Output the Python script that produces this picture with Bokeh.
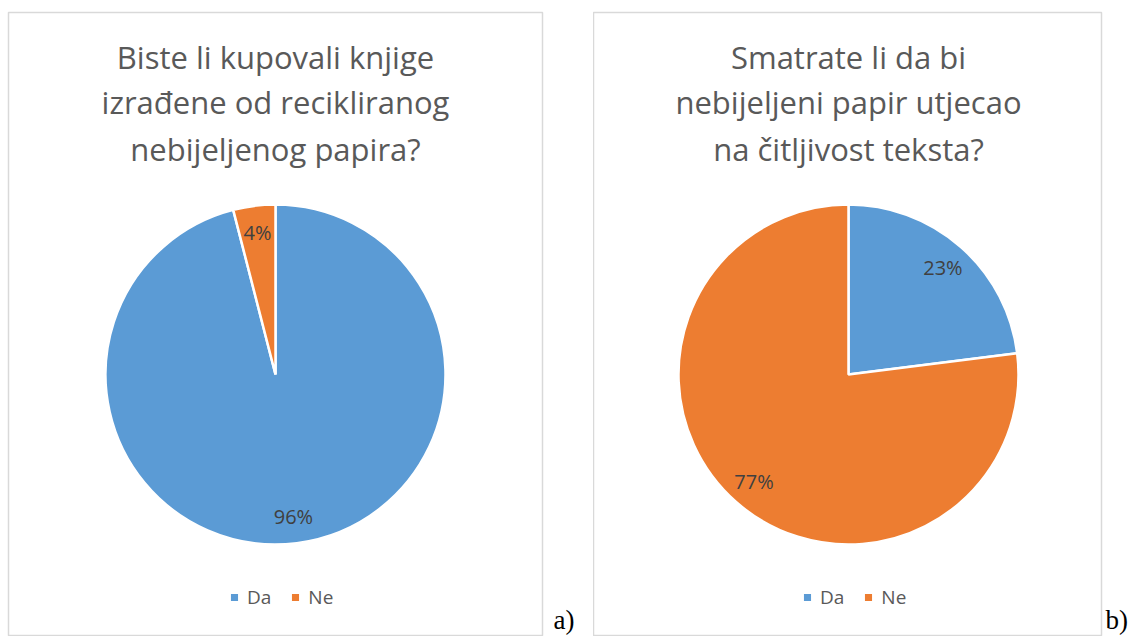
import math
from bokeh.plotting import figure
from bokeh.models import ColumnDataSource, Range1d, Label
from bokeh.layouts import row
from bokeh.embed import file_html
from bokeh.resources import INLINE
from bokeh.core.properties import value

# ---- data ----
categories = ["Da", "Ne"]
values_a = [96, 4]
values_b = [23, 77]
colors = ["#5B9BD5", "#ED7D31"]
title_a = ["Biste li kupovali knjige", "izrađene od recikliranog", "nebijeljenog papira?"]
title_b = ["Smatrate li da bi", "nebijeljeni papir utjecao", "na čitljivost teksta?"]
panel_tags = ["a)", "b)"]

FONT = "Open Sans"
R = 170
FIG_H = 636
TOP = 12
BOTTOM = 1


def pie_source(vals):
    total = float(sum(vals))
    starts, ends, lx, ly, txt = [], [], [], [], []
    cum = 0.0
    for v in vals:
        a_hi = math.pi / 2 - 2 * math.pi * cum / total
        cum += v
        a_lo = math.pi / 2 - 2 * math.pi * cum / total
        starts.append(a_lo)
        ends.append(a_hi)
        mid = (a_lo + a_hi) / 2
        lx.append(0.84 * R * math.cos(mid))
        ly.append(0.84 * R * math.sin(mid))
        txt.append(f"{round(100 * v / total)}%")
    return ColumnDataSource(dict(cat=categories, val=vals, start=starts, end=ends,
                                 color=colors, lx=lx, ly=ly, txt=txt))


def make_panel(vals, title_lines, width, left, right, cx, legend_x):
    frame_w = width - left - right
    frame_h = FIG_H - TOP - BOTTOM
    cy = 261
    p = figure(width=width, height=FIG_H, output_backend="svg", toolbar_location=None,
               x_axis_type=None, y_axis_type=None,
               x_range=Range1d(-cx, frame_w - cx), y_range=Range1d(-cy, frame_h - cy),
               min_border_left=left, min_border_right=right,
               min_border_top=TOP, min_border_bottom=BOTTOM)
    p.grid.visible = False
    p.outline_line_color = "#d9d9d9"
    p.outline_line_width = 1.5
    p.background_fill_color = "white"
    p.border_fill_color = "white"

    src = pie_source(vals)
    p.wedge(x=0, y=0, radius=R, start_angle="start", end_angle="end", direction="anticlock",
            fill_color="color", line_color="white", line_width=2.5, source=src,
            legend_field="cat")
    p.text(x="lx", y="ly", text="txt", source=src, text_align="center",
           text_baseline="middle", text_font=value(FONT), text_font_size="20px",
           text_color="#404040")

    baselines = [579, 534, 487]
    for line, yb in zip(title_lines, baselines):
        p.add_layout(Label(x=cx, y=yb, x_units="screen", y_units="screen", text=line,
                           text_align="center", text_baseline="alphabetic",
                           text_font=FONT, text_font_size="31px", text_color="#595959"))

    lg = p.legend[0]
    lg.orientation = "horizontal"
    lg.location = (legend_x, 25)
    lg.border_line_color = None
    lg.background_fill_alpha = 0
    lg.padding = 0
    lg.margin = 0
    lg.spacing = 18
    lg.glyph_width = 12
    lg.glyph_height = 12
    lg.label_standoff = 7
    lg.label_text_font = FONT
    lg.label_text_font_size = "19px"
    lg.label_text_color = "#595959"
    return p


def make_tag(text, width, xoff):
    f = figure(width=width, height=FIG_H, output_backend="svg", toolbar_location=None,
               x_axis_type=None, y_axis_type=None, min_border=0,
               x_range=Range1d(0, 1), y_range=Range1d(0, 1))
    f.grid.visible = False
    f.outline_line_color = None
    f.add_layout(Label(x=xoff, y=16, x_units="screen", y_units="screen", text=text,
                       text_baseline="alphabetic", text_font="Liberation Serif",
                       text_font_size="27px", text_color="black"))
    return f


pa = make_panel(values_a, title_a, 545, 8, 3, 267, 220)
ta = make_tag(panel_tags[0], 48, 8)
pb = make_panel(values_b, title_b, 511, 0, 3, 255, 208)
tb = make_tag(panel_tags[1], 32, 1)

layout = row(pa, ta, pb, tb, spacing=0)
open("out.html", "w").write(file_html(layout, INLINE))
